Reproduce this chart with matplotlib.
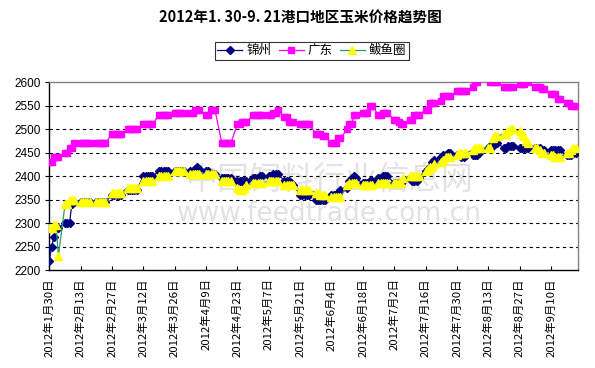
import matplotlib
matplotlib.use("Agg")
import matplotlib.pyplot as plt
import pandas as pd

plt.rcParams["font.family"] = ["Noto Sans CJK SC", "DejaVu Sans"]

# ── データ（営業日ごと、1行=1週） ─────────────────────────────
START, END = "2012-01-30", "2012-09-21"

jinzhou = [
    2220, 2250, 2270, 2290, 2290,
    2300, 2300, 2300, 2340, 2345,
    2345, 2345, 2345, 2345, 2345,
    2345, 2345, 2345, 2345, 2345,
    2360, 2360, 2360, 2360, 2360,
    2370, 2370, 2370, 2370, 2370,
    2400, 2400, 2400, 2400, 2400,
    2410, 2410, 2410, 2410, 2410,
    2410, 2410, 2410, 2410, 2410,
    2410, 2410, 2415, 2420, 2415,
    2410, 2410, 2405, 2405, 2405,
    2395, 2395, 2395, 2395, 2395,
    2390, 2390, 2390, 2390, 2390,
    2395, 2395, 2395, 2400, 2400,
    2400, 2400, 2405, 2405, 2405,
    2390, 2390, 2390, 2385, 2380,
    2360, 2360, 2360, 2360, 2360,
    2350, 2350, 2350, 2350, 2350,
    2360, 2360, 2360, 2365, 2370,
    2375, 2390, 2395, 2400, 2395,
    2385, 2385, 2385, 2390, 2390,
    2395, 2395, 2400, 2400, 2400,
    2385, 2385, 2385, 2385, 2390,
    2395, 2390, 2390, 2390, 2395,
    2410, 2415, 2420, 2430, 2435,
    2440, 2445, 2445, 2450, 2450,
    2445, 2445, 2440, 2440, 2445,
    2445, 2445, 2445, 2450, 2455,
    2460, 2465, 2465, 2470, 2470,
    2460, 2460, 2465, 2465, 2465,
    2460, 2460, 2460, 2460, 2460,
    2460, 2460, 2460, 2455, 2455,
    2455, 2455, 2455, 2455, 2455,
    2445, 2445, 2445, 2450, 2450,
]

guangdong = [
    2430, 2430, 2440, 2440, 2440,
    2450, 2450, 2460, 2460, 2470,
    2470, 2470, 2470, 2470, 2470,
    2470, 2470, 2470, 2470, 2470,
    2490, 2490, 2490, 2490, 2490,
    2500, 2500, 2500, 2500, 2500,
    2510, 2510, 2510, 2510, 2510,
    2530, 2530, 2530, 2530, 2530,
    2535, 2535, 2535, 2535, 2535,
    2535, 2535, 2540, 2540, 2540,
    2530, 2530, 2540, 2540, 2540,
    2470, 2470, 2470, 2470, 2470,
    2510, 2510, 2515, 2515, 2515,
    2530, 2530, 2530, 2530, 2530,
    2530, 2530, 2535, 2535, 2540,
    2525, 2525, 2515, 2515, 2515,
    2510, 2510, 2510, 2510, 2510,
    2490, 2490, 2490, 2485, 2485,
    2470, 2470, 2470, 2480, 2480,
    2500, 2510, 2510, 2530, 2530,
    2535, 2535, 2535, 2550, 2550,
    2530, 2530, 2535, 2535, 2535,
    2520, 2520, 2515, 2510, 2510,
    2520, 2520, 2530, 2530, 2530,
    2540, 2540, 2555, 2555, 2555,
    2560, 2570, 2570, 2570, 2570,
    2580, 2580, 2580, 2580, 2580,
    2590, 2600, 2600, 2610, 2610,
    2610, 2600, 2600, 2600, 2600,
    2590, 2590, 2590, 2590, 2590,
    2595, 2595, 2595, 2600, 2600,
    2590, 2590, 2590, 2585, 2585,
    2575, 2575, 2575, 2565, 2565,
    2555, 2555, 2550, 2550, 2550,
]

bayuquan = [
    2290, 2290, 2295, 2295, 2230,
    2340, 2340, 2350, 2350, 2350,
    2345, 2345, 2345, 2345, 2345,
    2345, 2345, 2345, 2345, 2345,
    2365, 2365, 2365, 2365, 2365,
    2375, 2375, 2375, 2375, 2375,
    2390, 2390, 2390, 2390, 2390,
    2400, 2400, 2400, 2400, 2400,
    2410, 2410, 2410, 2410, 2410,
    2405, 2405, 2405, 2405, 2405,
    2405, 2405, 2405, 2405, 2405,
    2390, 2390, 2390, 2390, 2390,
    2375, 2370, 2370, 2375, 2380,
    2385, 2385, 2385, 2385, 2385,
    2390, 2390, 2390, 2390, 2390,
    2380, 2380, 2380, 2380, 2380,
    2370, 2370, 2370, 2370, 2370,
    2365, 2365, 2360, 2360, 2360,
    2355, 2355, 2355, 2355, 2355,
    2380, 2385, 2385, 2385, 2385,
    2380, 2380, 2380, 2380, 2380,
    2385, 2385, 2385, 2385, 2385,
    2385, 2385, 2385, 2385, 2395,
    2400, 2400, 2400, 2400, 2400,
    2410, 2415, 2420, 2420, 2425,
    2430, 2435, 2440, 2440, 2440,
    2445, 2450, 2450, 2450, 2450,
    2455, 2460, 2460, 2460, 2460,
    2460, 2460, 2480, 2485, 2485,
    2490, 2490, 2495, 2500, 2500,
    2495, 2490, 2485, 2475, 2470,
    2460, 2460, 2455, 2450, 2450,
    2445, 2445, 2440, 2440, 2440,
    2450, 2450, 2455, 2460, 2460,
]

tick_labels = [
    "2012年1月30日", "2012年2月13日", "2012年2月27日", "2012年3月12日",
    "2012年3月26日", "2012年4月9日", "2012年4月23日", "2012年5月7日",
    "2012年5月21日", "2012年6月4日", "2012年6月18日", "2012年7月2日",
    "2012年7月16日", "2012年7月30日", "2012年8月13日", "2012年8月27日",
    "2012年9月10日",
]
series_names = ["锦州", "广东", "鲅鱼圈"]

# ── 描画 ──────────────────────────────────────────────────────
dates = pd.bdate_range(START, END)
tick_dates = pd.date_range(START, periods=len(tick_labels), freq="14D")

fig = plt.figure(figsize=(5.95, 3.68), dpi=100)
ax = fig.add_axes([0.083, 0.266, 0.888, 0.511])

# 透かし
ax.text(0.53, 0.48, "中国饲料行业信息网", transform=ax.transAxes,
        ha="center", va="center", fontsize=23, color="#e2e2e2", zorder=0.2)
ax.text(0.53, 0.30, "www.feedtrade.com.cn", transform=ax.transAxes,
        ha="center", va="center", fontsize=19, color="#e2e2e2",
        family="DejaVu Sans", zorder=0.2)

ax.plot(dates, jinzhou, color="#000080", lw=0.9, marker="D", ms=3.6,
        mec="#000080", mfc="#000080", label=series_names[0], zorder=3)
ax.plot(dates, guangdong, color="#FF00FF", lw=0.9, marker="s", ms=4.6,
        mec="#FF00FF", mfc="#FF00FF", label=series_names[1], zorder=3)
ax.plot(dates, bayuquan, color="#339966", lw=0.9, marker="^", ms=5.2,
        mec="#FFFF00", mfc="#FFFF00", label=series_names[2], zorder=4)

ax.set_ylim(2200, 2600)
ax.set_yticks(range(2200, 2601, 50))
ax.set_xlim(pd.Timestamp(START), pd.Timestamp(START) + pd.Timedelta(days=236))
ax.set_xticks(tick_dates)
ax.set_xticklabels(tick_labels, rotation=90, fontsize=8.2)
ax.tick_params(axis="x", direction="in", length=3, width=0.8, pad=6)
ax.tick_params(axis="y", direction="out", length=3, width=0.8, labelsize=8.5, pad=3)
for lab in ax.get_yticklabels():
    lab.set_family("Liberation Sans")

for v in range(2250, 2600, 50):
    ax.axhline(v, color="black", lw=0.8, ls=(0, (3, 3)), zorder=1)

ax.spines["left"].set_color("black")
ax.spines["bottom"].set_color("black")
ax.spines["top"].set_color("#808080")
ax.spines["right"].set_color("#808080")
for s in ax.spines.values():
    s.set_linewidth(1.0)

fig.suptitle("2012年1. 30-9. 21港口地区玉米价格趋势图", x=0.505, y=0.975,
             fontsize=10.5, fontweight="bold")

leg = fig.legend(loc="center", bbox_to_anchor=(0.524, 0.862), ncol=3,
                 fontsize=9, frameon=True, fancybox=False, edgecolor="black",
                 handlelength=2.0, columnspacing=0.6, handletextpad=0.3,
                 borderpad=0.2, borderaxespad=0)
leg.get_frame().set_linewidth(0.8)

fig.savefig("out.png", dpi=100, facecolor="white")
